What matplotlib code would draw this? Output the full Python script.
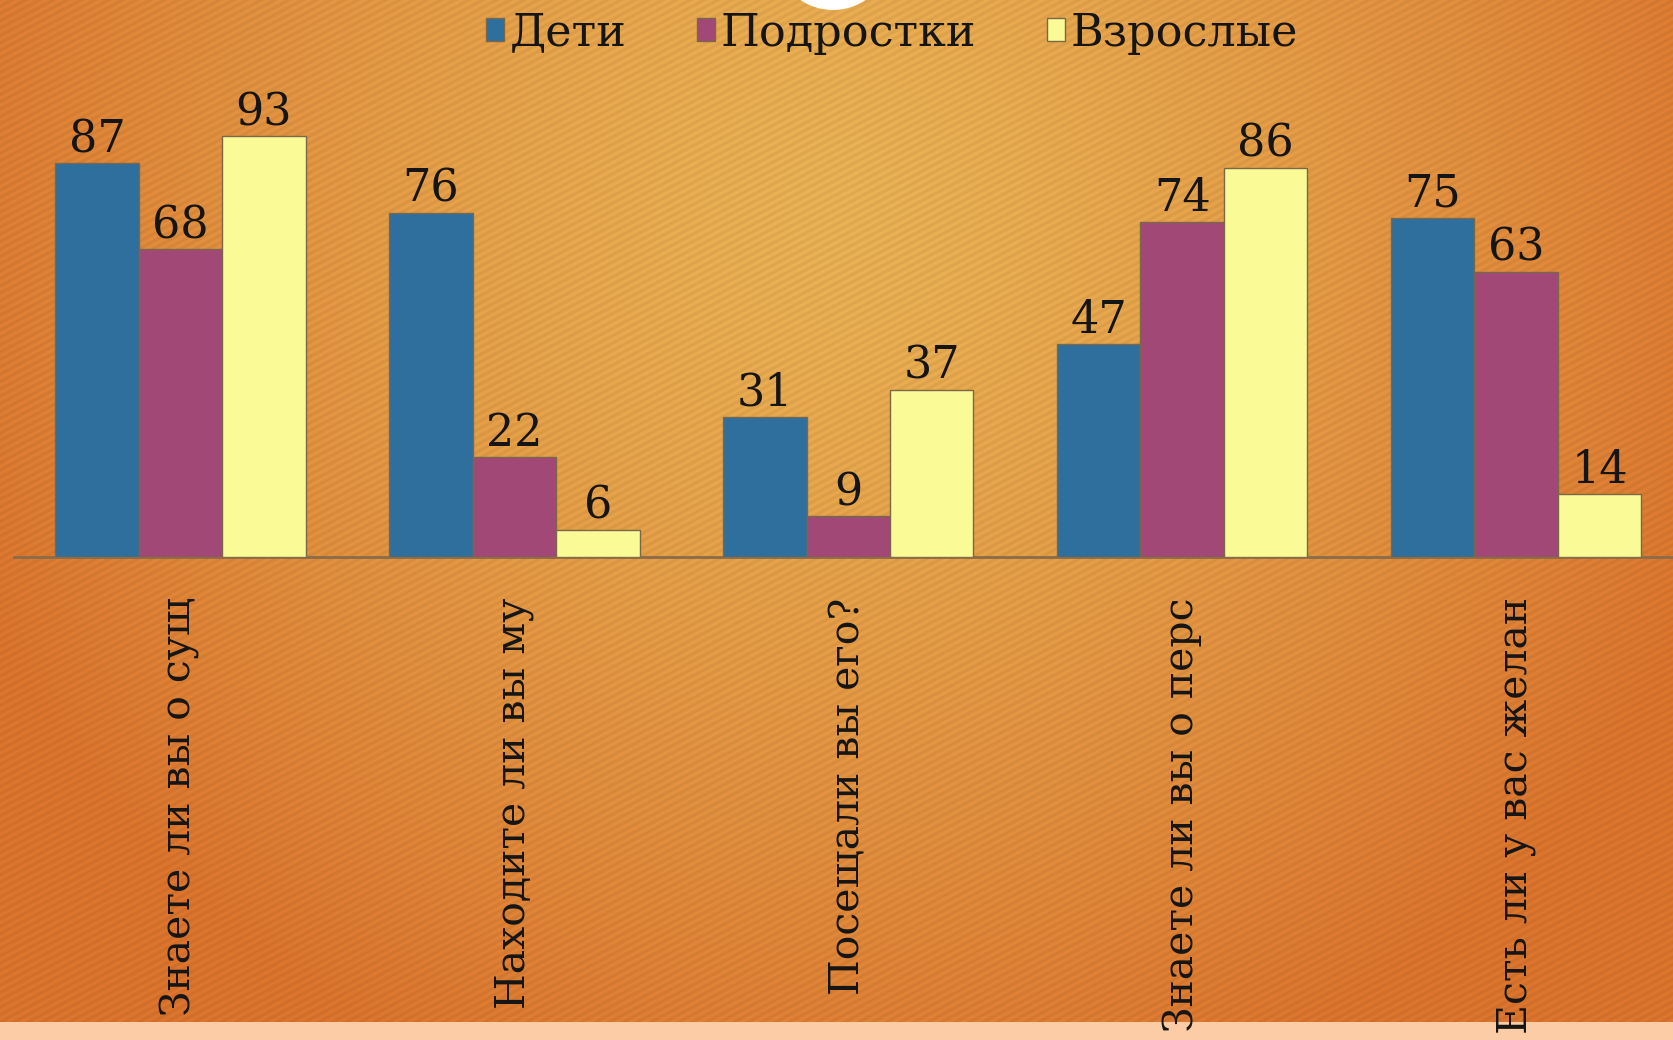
import numpy as np
import matplotlib
matplotlib.use("Agg")
import matplotlib.pyplot as plt
from matplotlib.patches import Rectangle, Circle

# ---- data ----
categories = ["Знаете ли вы о сущ", "Находите ли вы му", "Посещали вы его?",
              "Знаете ли вы о перс", "Есть ли у вас желан"]
series_names = ["Дети", "Подростки", "Взрослые"]
children = [87, 76, 31, 47, 75]
teens = [68, 22, 9, 74, 63]
adults = [93, 6, 37, 86, 14]
colors = ["#2f6f9e", "#a24877", "#fafa96"]

W, H = 1673, 1040
FONT = "DejaVu Serif"
plt.rcParams['font.family'] = [FONT, 'DejaVu Sans']

fig = plt.figure(figsize=(W / 100, H / 100), dpi=100)

# ---- background (gradient + diagonal texture) ----
bg = fig.add_axes([0, 0, 1, 1], zorder=-10)
yy, xx = np.mgrid[0:H, 0:W].astype(float)
r = np.sqrt(((xx - 840) / 950) ** 2 + ((yy - 200) / 950) ** 2)
t = np.clip(r, 0, 1) ** 1.4
c_in = np.array([229, 174, 82]) / 255
c_out = np.array([215, 114, 44]) / 255
img = c_in[None, None, :] * (1 - t[..., None]) + c_out[None, None, :] * t[..., None]
th = np.deg2rad(28)
phase = (xx * np.sin(th) + yy * np.cos(th)) / 6.5
tex = 1 + 0.035 * np.sin(2 * np.pi * phase)
img = np.clip(img * tex[..., None], 0, 1)
bg.imshow(img, extent=[0, W, H, 0], aspect='auto', interpolation='bilinear')
bg.add_patch(Rectangle((0, 1022), W, 20, color="#fccca6", lw=0))
bg.add_patch(Circle((833, -48), 58, color="white", lw=0))
bg.set_xlim(0, W)
bg.set_ylim(H, 0)
bg.axis('off')

# ---- main chart ----
base_y = 557
px_per_unit = 4.525
ymax = 100
left_px = 13.5
cat_w = 333.9
ax = fig.add_axes([left_px / W, (H - base_y) / H, cat_w * 5 / W,
                   px_per_unit * ymax / H])
ax.patch.set_alpha(0)
x = np.arange(len(categories))
bw = 0.25
all_series = [children, teens, adults]
bars = []
for i, (vals, col) in enumerate(zip(all_series, colors)):
    b = ax.bar(x + (i - 1) * bw, vals, width=bw, color=col,
               edgecolor="#7a6848", linewidth=1.0, zorder=3)
    bars.append(b)
    for xi, v in zip(x + (i - 1) * bw, vals):
        ax.annotate(str(v), (xi, v), xytext=(0, 8), textcoords='offset points',
                    ha='center', va='baseline', fontsize=32, color='#151515',
                    zorder=5)

ax.set_xlim(-0.5, 4.5)
ax.set_ylim(0, ymax)
for s in ['top', 'right', 'left']:
    ax.spines[s].set_visible(False)
ax.spines['bottom'].set_color('#8a6c48')
ax.spines['bottom'].set_linewidth(2)
ax.set_yticks([])
ax.set_xticks(x)
ax.set_xticklabels(categories, rotation=90, va='top', ha='center',
                   fontsize=29.5, color='#151515')
ax.tick_params(axis='x', length=0, pad=29)

fig.legend(bars, series_names, ncol=3, loc='center',
           bbox_to_anchor=(892 / W, 1 - 33 / H), frameon=False,
           handlelength=0.4, handleheight=0.4, handletextpad=0.12,
           columnspacing=1.6, fontsize=32, borderpad=0,
           labelcolor='#151515')

fig.savefig("out.png", dpi=100)
